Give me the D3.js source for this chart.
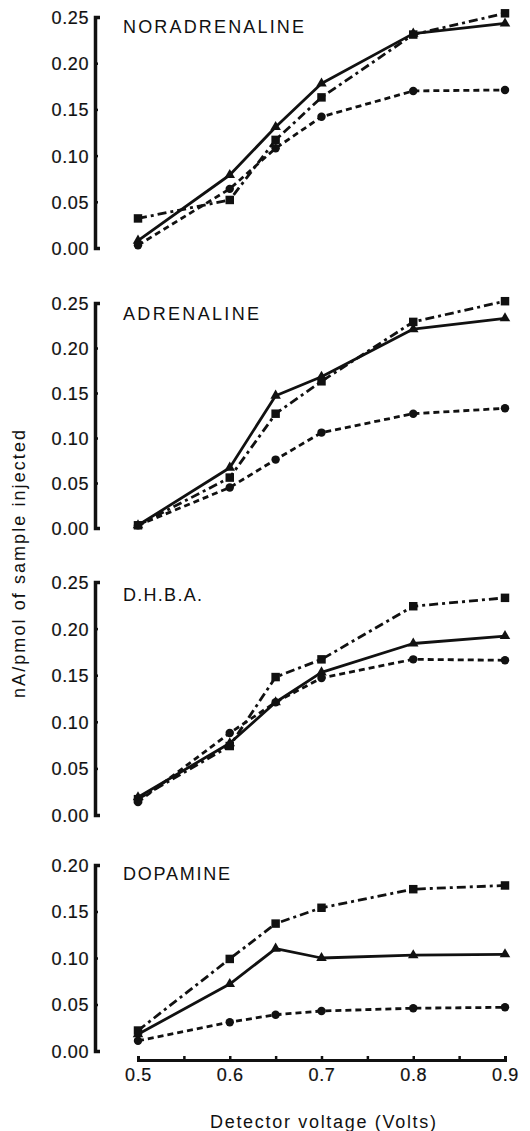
<!DOCTYPE html>
<html>
<head>
<meta charset="utf-8">
<script src="https://cdn.jsdelivr.net/npm/d3@7/dist/d3.min.js"></script>
<style>
  html, body { margin: 0; padding: 0; background: #fff; }
  svg { display: block; }
  text { font-family: "Liberation Sans", Arial, Helvetica, sans-serif; fill: #111; }
</style>
</head>
<body>
<svg id="chart" width="530" height="1131"></svg>
<script>
// Detector voltages (V) at which each amine was measured
const voltages = [0.5, 0.6, 0.65, 0.7, 0.8, 0.9];

// Panel titles
const compounds = ["NORADRENALINE", "ADRENALINE", "D.H.B.A.", "DOPAMINE"];

// Response (nA/pmol injected) — solid line, triangles
const triangleSeries = [
  [0.008, 0.079, 0.131, 0.178, 0.232, 0.243],
  [0.003, 0.067, 0.147, 0.168, 0.221, 0.233],
  [0.019, 0.077, 0.121, 0.153, 0.184, 0.192],
  [0.018, 0.072, 0.110, 0.100, 0.103, 0.104]
];
// dash-dot line, squares
const squareSeries = [
  [0.032, 0.052, 0.117, 0.163, 0.231, 0.254],
  [0.003, 0.056, 0.127, 0.163, 0.229, 0.252],
  [0.017, 0.074, 0.148, 0.167, 0.224, 0.233],
  [0.022, 0.099, 0.137, 0.154, 0.174, 0.178]
];
// dashed line, circles
const circleSeries = [
  [0.003, 0.064, 0.108, 0.142, 0.170, 0.171],
  [0.003, 0.045, 0.076, 0.106, 0.127, 0.133],
  [0.014, 0.088, 0.121, 0.147, 0.167, 0.166],
  [0.011, 0.031, 0.039, 0.043, 0.046, 0.047]
];

// Y-axis tick values per panel
const yTicksFull = [0, 0.05, 0.10, 0.15, 0.20, 0.25];
const yTicksDopamine = [0, 0.05, 0.10, 0.15, 0.20];
const yTickSets = [yTicksFull, yTicksFull, yTicksFull, yTicksDopamine];

// X-axis ticks (labelled and minor)
const xTicks = [0.5, 0.55, 0.6, 0.65, 0.7, 0.75, 0.8, 0.85, 0.9];
const xLabelled = [0.5, 0.6, 0.7, 0.8, 0.9];

const yTitle = "nA/pmol of sample injected";
const xTitle = "Detector voltage (Volts)";

// ---- layout ----
const svg = d3.select("#chart");
const ink = "#111";
const axisX = 95;
const panels = [
  { top: 17,  bottom: 248 },
  { top: 303, bottom: 528 },
  { top: 582, bottom: 815 },
  { top: 865, bottom: 1051 }
];
const titleOffsets = [16, 17, 19, 15];
const titleLengths = [181, 136, 79, 107];

const x = d3.scaleLinear().domain([0.5, 0.9]).range([138, 505]);

const styles = {
  tri:  { dash: null,        width: 2.8 },
  sq:   { dash: "9,4,3,4",   width: 2.8 },
  circ: { dash: "6,4",       width: 2.8 }
};

function inkText(sel, weight) {
  sel.attr("fill", ink)
     .style("font-family", "'Liberation Sans', Arial, sans-serif");
  if (weight) sel.attr("stroke", ink).attr("stroke-width", weight);
}

panels.forEach((p, i) => {
  const ticks = yTickSets[i];
  const yMax = d3.max(ticks);
  const y = d3.scaleLinear().domain([0, yMax]).range([p.bottom, p.top]);

  // y axis: labels on the left, ticks and end hooks to the right
  const gy = svg.append("g")
    .attr("transform", `translate(${axisX},0)`)
    .call(d3.axisLeft(y).tickValues(ticks)
      .tickFormat(d3.format(".2f"))
      .tickSizeInner(-3).tickSizeOuter(-5).tickPadding(6));
  gy.select(".domain").attr("stroke", ink).attr("stroke-width", 3.5);
  gy.selectAll(".tick line").attr("stroke", ink).attr("stroke-width", 2.5);
  gy.selectAll(".tick text")
    .attr("font-size", 18)
    .attr("letter-spacing", 0.6)
    .attr("dy", "0.36em")
    .call(inkText, 0.2);

  // panel title
  svg.append("text")
    .attr("x", 123)
    .attr("y", p.top + titleOffsets[i])
    .attr("font-size", 18)
    .attr("textLength", titleLengths[i])
    .attr("lengthAdjust", "spacing")
    .text(compounds[i])
    .call(inkText, 0);

  const series = [
    { key: "tri",  vals: triangleSeries[i] },
    { key: "sq",   vals: squareSeries[i] },
    { key: "circ", vals: circleSeries[i] }
  ];

  const line = d3.line().x((d, k) => x(voltages[k])).y(d => y(d));

  series.forEach(s => {
    svg.append("path")
      .datum(s.vals)
      .attr("d", line)
      .attr("fill", "none")
      .attr("stroke", ink)
      .attr("stroke-width", styles[s.key].width)
      .attr("stroke-dasharray", styles[s.key].dash)
      .attr("stroke-linejoin", "round");
  });

  const symbolFor = { tri: d3.symbolTriangle, sq: d3.symbolSquare, circ: d3.symbolCircle };
  const sizeFor = { tri: 48, sq: 72, circ: 56 };
  series.forEach(s => {
    svg.append("g").selectAll("path")
      .data(s.vals)
      .join("path")
      .attr("transform", (d, k) => `translate(${x(voltages[k])},${y(d)})`)
      .attr("d", d3.symbol().type(symbolFor[s.key]).size(sizeFor[s.key]))
      .attr("fill", ink);
  });
});

// x axis under the last panel, ticks pointing up
const gx = svg.append("g")
  .attr("transform", "translate(0,1060)")
  .call(d3.axisBottom(x).tickValues(xTicks)
    .tickFormat(d => xLabelled.some(v => Math.abs(v - d) < 1e-9) ? d3.format(".1f")(d) : "")
    .tickSizeInner(-4).tickSizeOuter(-4).tickPadding(8));
gx.select(".domain").attr("stroke", ink).attr("stroke-width", 3);
gx.selectAll(".tick line").attr("stroke", ink).attr("stroke-width", 2.5);
gx.selectAll(".tick text")
  .attr("font-size", 18)
  .attr("letter-spacing", 0.6)
  .call(inkText, 0.2);

// axis titles
svg.append("text")
  .attr("x", 323).attr("y", 1128)
  .attr("text-anchor", "middle")
  .attr("font-size", 18)
  .attr("textLength", 226)
  .attr("lengthAdjust", "spacing")
  .text(xTitle)
  .call(inkText, 0);

svg.append("text")
  .attr("transform", "translate(25,564) rotate(-90)")
  .attr("text-anchor", "middle")
  .attr("font-size", 18)
  .attr("textLength", 268)
  .attr("lengthAdjust", "spacing")
  .text(yTitle)
  .call(inkText, 0);
</script>
</body>
</html>
